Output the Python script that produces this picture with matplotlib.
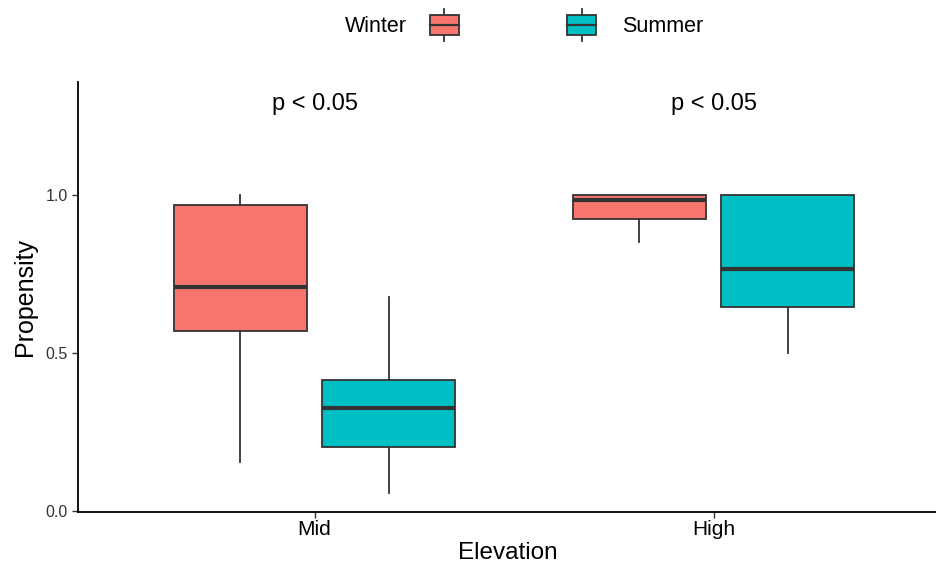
import matplotlib
matplotlib.use("Agg")
import matplotlib.pyplot as plt
from matplotlib.patches import Rectangle
from matplotlib.lines import Line2D

plt.rcParams['font.family'] = ['Liberation Sans', 'DejaVu Sans']

categories = ["Mid", "High"]
seasons = ["Winter", "Summer"]
colors = {"Winter": "#F8766D", "Summer": "#00BFC4"}
# stats per season, per category: whislo, q1, med, q3, whishi
stats = {
    "Winter": {"whislo": [0.156, 0.852], "q1": [0.571, 0.923], "med": [0.710, 0.984],
               "q3": [0.968, 1.000], "whishi": [1.000, 1.000]},
    "Summer": {"whislo": [0.058, 0.501], "q1": [0.203, 0.646], "med": [0.326, 0.766],
               "q3": [0.414, 1.000], "whishi": [0.678, 1.000]},
}
pvals = ["p < 0.05", "p < 0.05"]
yticks = [0.0, 0.5, 1.0]

W, H = 937, 569
fig = plt.figure(figsize=(W / 100, H / 100), dpi=100)
ax = fig.add_axes([78 / W, 1 - 512 / H, 1 - 78 / W, (512 - 82) / H])

offsets = {"Winter": -0.186, "Summer": 0.186}
edge = "#333333"
for s in seasons:
    st = stats[s]
    bxpstats = []
    for i in range(len(categories)):
        bxpstats.append(dict(whislo=st["whislo"][i], q1=st["q1"][i], med=st["med"][i],
                             q3=st["q3"][i], whishi=st["whishi"][i], fliers=[]))
    pos = [i + 1 + offsets[s] for i in range(len(categories))]
    ax.bxp(bxpstats, positions=pos, widths=0.334, patch_artist=True, showcaps=False,
           showfliers=False,
           boxprops=dict(facecolor=colors[s], edgecolor=edge, linewidth=1.3),
           medianprops=dict(color=edge, linewidth=3.0, solid_capstyle='butt'),
           whiskerprops=dict(color=edge, linewidth=1.3),
           manage_ticks=False)

for i, p in enumerate(pvals):
    ax.text(i + 1, 1.288, p, ha='center', va='center', fontsize=17, color='black')

ax.set_xlim(0.407, 2.56)
ax.set_ylim(-0.003, 1.358)
ax.set_xticks([1, 2])
ax.set_xticklabels(categories, fontsize=15)
ax.set_yticks(yticks)
ax.set_yticklabels([f"{v:.1f}" for v in yticks], fontsize=11.5)
ax.tick_params(colors='#333333', labelcolor='#333333', length=4, width=1)
ax.tick_params(axis='x', labelcolor='black', pad=2)
for sp in ['top', 'right']:
    ax.spines[sp].set_visible(False)
for sp in ['left', 'bottom']:
    ax.spines[sp].set_linewidth(1.3)
ax.set_xlabel("Elevation", fontsize=17.5, labelpad=2)
ax.set_ylabel("Propensity", fontsize=18, labelpad=6)

# legend (top)
def key(x0, color):
    x1 = x0 + 29
    xm = (x0 + x1) / 2
    fig.add_artist(Line2D([xm / W, xm / W], [1 - 9 / H, 1 - 41 / H], color=edge, lw=1.3,
                          zorder=1))
    fig.add_artist(Rectangle((x0 / W, 1 - 35 / H), 29 / W, 20 / H, facecolor=color,
                             edgecolor=edge, lw=1.3, zorder=2))
    fig.add_artist(Line2D([x0 / W, x1 / W], [1 - 25 / H, 1 - 25 / H], color=edge, lw=1.6,
                          zorder=3))

key(430, colors["Winter"])
key(567, colors["Summer"])
fig.text(407 / W, 1 - 27 / H, "Winter", ha='right', va='center', fontsize=15.5)
fig.text(622 / W, 1 - 27 / H, "Summer", ha='left', va='center', fontsize=15.5)

fig.savefig("out.png", dpi=100)
